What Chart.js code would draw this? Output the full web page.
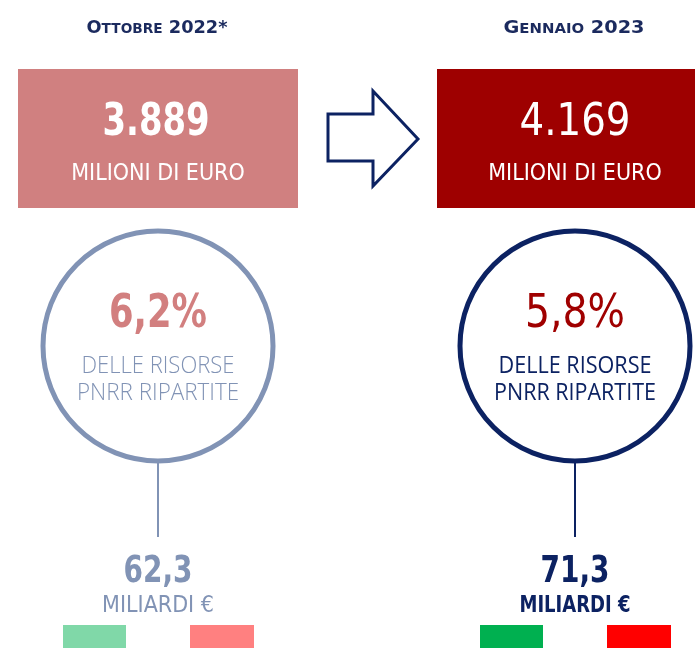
<!DOCTYPE html>
<html>
<head>
<meta charset="utf-8">
<script src="https://cdn.jsdelivr.net/npm/chart.js@4"></script>
<style>
  body { margin: 0; background: #fff; }
</style>
</head>
<body>
<canvas id="pnrrChart" width="695" height="648"></canvas>
<script>
    var periodi = ['Ottobre 2022*', 'Gennaio 2023'];
    var milioniEuro = [3889, 4169];
    var quotaPnrr = [6.2, 5.8];
    var miliardiRipartiti = [62.3, 71.3];

    // colori per periodo (chiaro = prima, scuro = dopo)
    var coloriBox = ['#d08080', '#9e0000'];
    var coloriPerc = ['#d27f7f', '#a00000'];
    var coloriBlu = ['#8193b5', '#0c2262'];
    var coloriVerde = ['#80d8a8', '#00b050'];
    var coloriRosso = ['#ff8080', '#ff0000'];

    var FONT = '"DejaVu Sans Condensed", "DejaVu Sans", sans-serif';

    function numIt(v, dec) {
        return v.toLocaleString('it-IT', { minimumFractionDigits: dec, maximumFractionDigits: dec });
    }

    // testo centrato, compresso alla larghezza voluta
    function scrivi(ctx, testo, cx, base, font, larg) {
        ctx.font = font;
        ctx.textAlign = 'center';
        ctx.fillText(testo, cx, base, larg);
    }

    // titolo in maiuscoletto: prima lettera grande, resto piccolo, cifre grandi
    function maiuscoletto(ctx, testo, cx, base, big, small, larg) {
        var parti = [];
        testo.split(' ').forEach(function (parola, i) {
            if (i > 0) parti.push({ t: ' ', s: big });
            if (/^\d/.test(parola)) {
                parti.push({ t: parola, s: big });
            } else {
                parti.push({ t: parola.charAt(0).toUpperCase(), s: big });
                parti.push({ t: parola.slice(1).toUpperCase(), s: small });
            }
        });
        var w = 0;
        parti.forEach(function (p) {
            ctx.font = 'bold ' + p.s + 'px ' + FONT;
            p.w = ctx.measureText(p.t).width;
            w += p.w;
        });
        var k = larg / w;
        ctx.save();
        ctx.translate(cx - larg / 2, base);
        ctx.scale(k, 1);
        ctx.textAlign = 'left';
        var x = 0;
        parti.forEach(function (p) {
            ctx.font = 'bold ' + p.s + 'px ' + FONT;
            ctx.fillText(p.t, x, 0);
            x += p.w;
        });
        ctx.restore();
    }

    var infografica = {
        id: 'infografica',
        afterDraw: function (chart) {
            var ctx = chart.ctx;
            var xs = chart.scales.x;
            ctx.save();
            ctx.textBaseline = 'alphabetic';

            periodi.forEach(function (p, i) {
                var cx = xs.getPixelForValue(i);

                // titolo
                ctx.fillStyle = '#1b2a5e';
                maiuscoletto(ctx, p, cx - 1, 33, 17.5, 13.5, 141);

                // riquadro milioni
                var bx = i === 0 ? 18 : 437;
                ctx.fillStyle = coloriBox[i];
                ctx.fillRect(bx, 69, 280, 139);
                ctx.fillStyle = '#ffffff';
                var bc = bx + 140 + (i === 0 ? 0 : -2);
                scrivi(ctx, numIt(milioniEuro[i], 0), bc - (i === 0 ? 2 : 0), 135,
                    (i === 0 ? 'bold ' : '') + '45px ' + FONT, i === 0 ? 107 : 111);
                scrivi(ctx, 'MILIONI DI EURO', bc, 180, '23px ' + FONT, 174);

                // cerchio
                ctx.strokeStyle = coloriBlu[i];
                ctx.lineWidth = 5;
                ctx.beginPath();
                ctx.arc(cx, 346, 115, 0, Math.PI * 2);
                ctx.stroke();

                ctx.fillStyle = coloriPerc[i];
                scrivi(ctx, numIt(quotaPnrr[i], 1) + '%', cx, 327,
                    (i === 0 ? 'bold ' : '') + '46px ' + FONT, i === 0 ? 98 : 100);
                ctx.fillStyle = coloriBlu[i];
                var leggero = (i === 0 ? '300 ' : '400 ') + '23px "Open Sans", "DejaVu Sans", sans-serif';
                scrivi(ctx, 'DELLE RISORSE', cx, 373, leggero, 153);
                scrivi(ctx, 'PNRR RIPARTITE', cx, 400, leggero, 162);

                // asta
                ctx.lineWidth = 2;
                ctx.beginPath();
                ctx.moveTo(cx, 462);
                ctx.lineTo(cx, 537);
                ctx.stroke();

                // miliardi
                scrivi(ctx, numIt(miliardiRipartiti[i], 1), cx, 582, 'bold 37px ' + FONT, 69);
                scrivi(ctx, 'MILIARDI \u20ac', cx, 612, (i === 0 ? '' : 'bold ') + '23px ' + FONT, i === 0 ? 114 : 111);

                // bandierine
                ctx.fillStyle = coloriVerde[i];
                ctx.fillRect(cx - 95, 625, 63, 23);
                ctx.fillStyle = coloriRosso[i];
                ctx.fillRect(cx + 32, 625, 64, 23);
            });

            // freccia tra i due periodi
            ctx.strokeStyle = '#0c2262';
            ctx.fillStyle = '#ffffff';
            ctx.lineWidth = 3;
            ctx.lineJoin = 'miter';
            ctx.beginPath();
            ctx.moveTo(328, 114);
            ctx.lineTo(373, 114);
            ctx.lineTo(373, 91);
            ctx.lineTo(418, 139);
            ctx.lineTo(373, 186);
            ctx.lineTo(373, 161);
            ctx.lineTo(328, 161);
            ctx.closePath();
            ctx.fill();
            ctx.stroke();

            ctx.restore();
        }
    };

    var ctx = document.getElementById('pnrrChart').getContext('2d');
    var myChart = new Chart(ctx, {
        type: 'bar',
        data: {
            labels: periodi,
            datasets: [{ label: 'Milioni di euro', data: [], backgroundColor: coloriBox }]
        },
        options: {
            responsive: false,
            animation: false,
            layout: { padding: { left: 158, right: 120, top: 0, bottom: 0 } },
            plugins: { legend: { display: false }, tooltip: { enabled: false } },
            scales: {
                x: { display: false, offset: false },
                y: { display: false }
            }
        },
        plugins: [infografica]
    });
</script>
</body>
</html>
